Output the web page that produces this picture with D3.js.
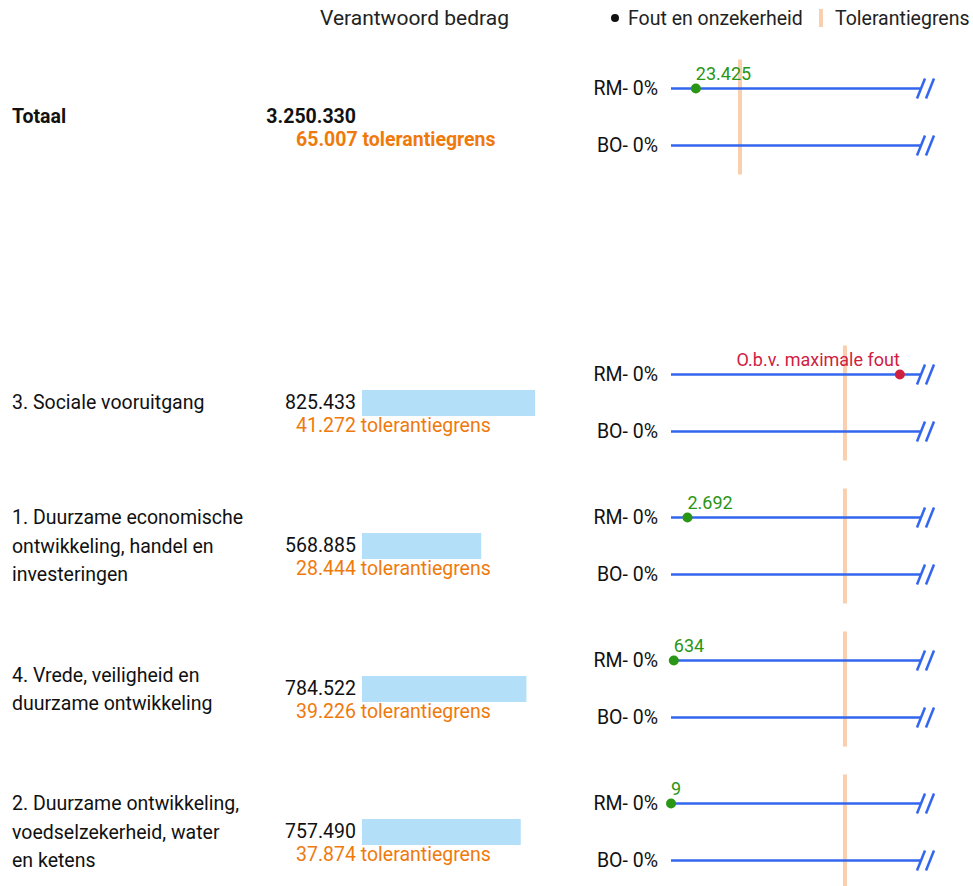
<!DOCTYPE html>
<html>
<head>
<meta charset="utf-8">
<script src="https://cdn.jsdelivr.net/npm/d3@7"></script>
<style>
  body { margin: 0; background: #fff; font-family: Roboto, "Noto Sans", sans-serif; }
  text { font-family: Roboto, "Noto Sans", sans-serif; }
</style>
</head>
<body>
<div id="chart"></div>
<script>
// data
var rowKeys = ["Totaal", "gap", "c3", "c1", "c4", "c2"];
var labels = [
  ["Totaal"],
  ["3. Sociale vooruitgang"],
  ["1. Duurzame economische", "ontwikkeling, handel en", "investeringen"],
  ["4. Vrede, veiligheid en", "duurzame ontwikkeling"],
  ["2. Duurzame ontwikkeling,", "voedselzekerheid, water", "en ketens"]
];
var amounts = [3250330, 825433, 568885, 784522, 757490];
var tolerances = [65007, 41272, 28444, 39226, 37874];
var rmErrors = [23425, 54300, 2692, 634, 9];
var rmLabels = ["23.425", "O.b.v. maximale fout", "2.692", "634", "9"];
var rmMaxFout = [false, true, false, false, false];
var axisFactor = [3.58, 1.42, 1.42, 1.42, 1.42]; // axis end relative to tolerance
var lineNames = ["RM- 0%", "BO- 0%"];

var width = 973, height = 886;
var blue = "#3366ee", tolColor = "#f9cfae", orange = "#ef7a0c",
    green = "#2a9615", red = "#d0203f", barColor = "#b3e0f8";
var fs = "19.5px";

var svg = d3.select("#chart").append("svg")
  .attr("width", width)
  .attr("height", height);

var fmt = d3.formatLocale({decimal: ",", thousands: ".", grouping: [3], currency: ["€", ""]}).format(",d");

// row positions
var yScale = d3.scaleBand()
  .domain(rowKeys)
  .range([45.5, 45.5 + 143 * rowKeys.length])
  .paddingInner(0);
var rows = rowKeys.filter(k => k != "gap").map((k, i) => ({
  key: k, i: i, label: labels[i], amount: amounts[i], tol: tolerances[i],
  err: rmErrors[i], errLabel: rmLabels[i], maxFout: rmMaxFout[i],
  cy: yScale(k) + yScale.bandwidth() / 2
}));

var barScale = d3.scaleLinear()
  .domain([0, d3.max(amounts.slice(1))])
  .range([0, 173]);

// header
svg.append("text")
  .attr("x", 414.5).attr("y", 18).attr("dy", "0.35em")
  .attr("text-anchor", "middle")
  .style("font-size", "21px").attr("fill", "#222")
  .text("Verantwoord bedrag");

// legend
var legend = svg.append("g");
legend.append("circle").attr("cx", 615).attr("cy", 18).attr("r", 4).attr("fill", "#111");
legend.append("text").attr("x", 628).attr("y", 18).attr("dy", "0.35em")
  .style("font-size", fs).attr("fill", "#222").text("Fout en onzekerheid");
legend.append("rect").attr("x", 819).attr("y", 9).attr("width", 4).attr("height", 18).attr("fill", tolColor);
legend.append("text").attr("x", 835).attr("y", 18).attr("dy", "0.35em")
  .style("font-size", fs).attr("fill", "#222").text("Tolerantiegrens");

var row = svg.selectAll(".row")
  .data(rows)
  .enter().append("g")
  .attr("class", "row");

// category labels
row.each(function(d) {
  var g = d3.select(this);
  var n = d.label.length;
  var step = 28.5;
  d.label.forEach(function(l, j) {
    g.append("text")
      .attr("x", 12)
      .attr("y", d.cy + (j - (n - 1) / 2) * step + (n == 1 ? -0.5 : 0))
      .attr("dy", "0.35em")
      .style("font-size", fs)
      .style("font-weight", d.i == 0 ? "bold" : "normal")
      .attr("fill", "#111")
      .text(l);
  });
});

// amounts
row.append("text")
  .attr("x", 356)
  .attr("y", d => d.cy - 1)
  .attr("dy", "0.35em")
  .attr("text-anchor", "end")
  .style("font-size", fs)
  .style("font-weight", d => d.i == 0 ? "bold" : "normal")
  .attr("fill", "#111")
  .text(d => fmt(d.amount));

row.append("text")
  .attr("x", 296)
  .attr("y", d => d.cy + 22)
  .attr("dy", "0.35em")
  .style("font-size", fs)
  .style("font-weight", d => d.i == 0 ? "bold" : "normal")
  .attr("fill", orange)
  .text(d => fmt(d.tol) + " tolerantiegrens");

// bars (not for total)
row.filter(d => d.i > 0).append("rect")
  .attr("x", 362)
  .attr("y", d => d.cy - 13)
  .attr("width", d => barScale(d.amount))
  .attr("height", 26)
  .attr("fill", barColor);

// right part: error lines
row.each(function(d) {
  var g = d3.select(this);
  var x = d3.scaleLinear().domain([0, d.tol * axisFactor[d.i]]).range([671, 918]);
  var yRM = d.cy - 28.5, yBO = d.cy + 28.5;

  // tolerance line
  g.append("line")
    .attr("x1", x(d.tol)).attr("x2", x(d.tol))
    .attr("y1", yRM - 29).attr("y2", yBO + 29)
    .attr("stroke", tolColor).attr("stroke-width", 4);

  [yRM, yBO].forEach(function(ly, k) {
    g.append("text")
      .attr("x", 658).attr("y", ly).attr("dy", "0.35em")
      .attr("text-anchor", "end")
      .style("font-size", fs).attr("fill", "#111")
      .text(lineNames[k]);
    g.append("line")
      .attr("x1", x(0)).attr("x2", x.range()[1] + 3)
      .attr("y1", ly).attr("y2", ly)
      .attr("stroke", blue).attr("stroke-width", 2.5);
    // break marks
    [0, 9].forEach(function(off) {
      g.append("line")
        .attr("x1", 917 + off).attr("y1", ly + 10)
        .attr("x2", 925 + off).attr("y2", ly - 10)
        .attr("stroke", blue).attr("stroke-width", 2.5);
    });
  });

  var col = d.maxFout ? red : green;
  g.append("circle")
    .attr("cx", x(d.err)).attr("cy", yRM).attr("r", 5)
    .attr("fill", col);
  g.append("text")
    .attr("x", x(d.err))
    .attr("y", yRM - 15)
    .attr("text-anchor", d.maxFout ? "end" : "start")
    .attr("dy", "0.35em")
    .style("font-size", "18px")
    .attr("fill", col)
    .text(d.errLabel);
});
</script>
</body>
</html>
